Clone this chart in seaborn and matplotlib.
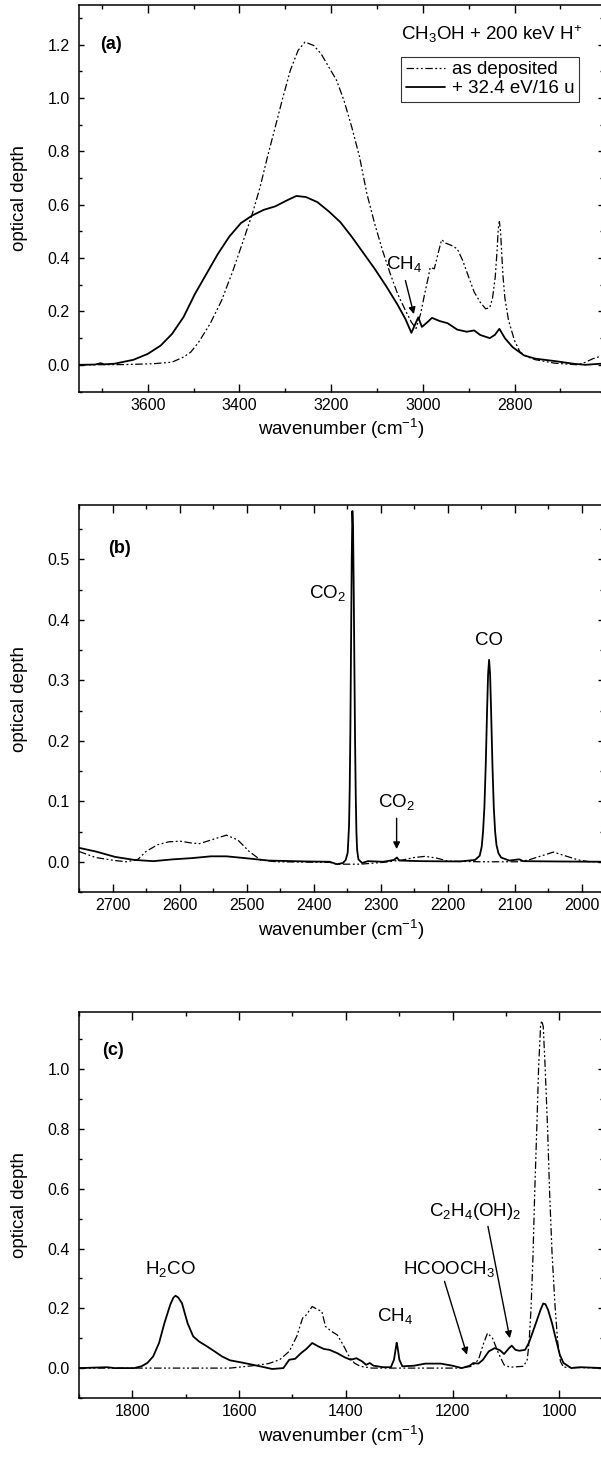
import matplotlib
matplotlib.use("Agg")
import matplotlib.pyplot as plt
import seaborn as sns
import pandas as pd
from matplotlib.ticker import MultipleLocator, FormatStrFormatter

# ---------------- data ----------------
# panel (a): 3750-2600 cm-1
a_dep_wn = [3750, 3650, 3589, 3547, 3522, 3506, 3489, 3464, 3439, 3414, 3389, 3372, 3355, 3339,
            3322, 3305, 3289, 3272, 3257, 3238, 3222, 3205, 3188, 3172, 3155, 3138, 3122, 3105,
            3088, 3071, 3055, 3038, 3025, 3015, 3005, 2996, 2988, 2984, 2975, 2967, 2959, 2950,
            2938, 2925, 2913, 2900, 2888, 2875, 2863, 2854, 2848, 2842, 2838, 2835.5, 2833, 2830.5,
            2828, 2825, 2821, 2813, 2800, 2788, 2771, 2754, 2712, 2662, 2645, 2629, 2614, 2600]
a_dep_od = [0.0, 0.001, 0.004, 0.010, 0.029, 0.048, 0.085, 0.154, 0.241, 0.354, 0.479, 0.566, 0.666, 0.779,
            0.891, 1.004, 1.104, 1.179, 1.210, 1.197, 1.166, 1.116, 1.066, 0.991, 0.891, 0.779, 0.641, 0.529,
            0.429, 0.341, 0.266, 0.204, 0.160, 0.136, 0.190, 0.266, 0.329, 0.365, 0.360, 0.416, 0.469, 0.456,
            0.448, 0.435, 0.391, 0.329, 0.273, 0.235, 0.210, 0.214, 0.250, 0.330, 0.430, 0.510, 0.537, 0.500,
            0.420, 0.330, 0.250, 0.166, 0.091, 0.048, 0.029, 0.019, 0.006, 0.0, 0.010, 0.023, 0.031, 0.036]
a_irr_wn = [3750, 3715, 3703, 3695, 3673, 3631, 3600, 3572, 3547, 3522, 3497, 3472, 3447, 3422,
            3397, 3372, 3347, 3322, 3297, 3276, 3255, 3230, 3205, 3180, 3155, 3130, 3105, 3080,
            3055, 3038, 3025, 3010, 3002, 2990, 2980, 2963, 2946, 2925, 2904, 2888, 2875, 2854,
            2843, 2833, 2821, 2804, 2779, 2754, 2712, 2671, 2645, 2614, 2600]
a_irr_od = [0.0, 0.001, 0.006, 0.002, 0.004, 0.019, 0.041, 0.072, 0.116, 0.179, 0.266, 0.341, 0.416, 0.481,
            0.531, 0.560, 0.581, 0.594, 0.616, 0.633, 0.629, 0.610, 0.575, 0.535, 0.480, 0.420, 0.360, 0.295,
            0.225, 0.172, 0.120, 0.178, 0.142, 0.160, 0.176, 0.164, 0.156, 0.132, 0.124, 0.129, 0.112, 0.100,
            0.112, 0.135, 0.100, 0.066, 0.035, 0.023, 0.014, 0.004, 0.0, 0.004, 0.004]

# panel (b): 2750-1968 cm-1
b_dep_wn = [2750, 2725, 2696, 2679, 2662, 2650, 2633, 2616, 2599, 2582, 2570, 2553, 2530, 2513,
            2496, 2479, 2456, 2376, 2365, 2347, 2330, 2319, 2296, 2267, 2250, 2233, 2216, 2199,
            2153, 2096, 2079, 2062, 2042, 2022, 2005, 1988, 1965]
b_dep_od = [0.017, 0.007, 0.002, 0.0, 0.004, 0.017, 0.028, 0.033, 0.034, 0.031, 0.030, 0.036, 0.044, 0.036,
            0.017, 0.003, 0.0, -0.001, -0.004, -0.004, -0.004, -0.003, -0.001, 0.003, 0.007, 0.009, 0.006, 0.001,
            0.0, 0.0, 0.003, 0.009, 0.016, 0.009, 0.003, 0.0, 0.0]
b_irr_wn = [2750, 2725, 2696, 2667, 2639, 2610, 2582, 2553, 2530, 2502, 2467, 2410, 2376, 2365,
            2356, 2352, 2349, 2347, 2346, 2345, 2344, 2343, 2342, 2341, 2340, 2339, 2338, 2337,
            2336, 2335, 2333, 2327.5, 2319, 2296, 2280, 2275.5, 2272, 2239, 2182, 2159, 2152,
            2149, 2147, 2145, 2143, 2141, 2139.5, 2138, 2136.5, 2135, 2133, 2131, 2129, 2127, 2124,
            2120, 2108, 2093, 2087, 2039, 1965]
b_irr_od = [0.023, 0.017, 0.008, 0.003, 0.001, 0.004, 0.006, 0.009, 0.009, 0.006, 0.002, 0.0005, 0.0, -0.004,
            -0.002, 0.003, 0.015, 0.060, 0.120, 0.220, 0.360, 0.500, 0.580, 0.550, 0.450, 0.320, 0.200, 0.110,
            0.050, 0.020, 0.004, -0.002, 0.001, 0.0, 0.003, 0.007, 0.002, 0.001, 0.0005, 0.003, 0.010,
            0.025, 0.050, 0.090, 0.160, 0.250, 0.310, 0.334, 0.310, 0.250, 0.160, 0.090, 0.050, 0.028, 0.014,
            0.007, 0.002, 0.004, 0.001, 0.0005, 0.0]

# panel (c): 1900-918 cm-1
c_dep_wn = [1900, 1617, 1574, 1545, 1524, 1506, 1492, 1481, 1474, 1463, 1452, 1445, 1438, 1427,
            1416, 1405, 1394, 1384, 1373, 1351, 1186, 1164, 1151.5, 1141.5, 1134.4, 1125, 1114,
            1103.4, 1092.5, 1067, 1060, 1056.6, 1053, 1049.4, 1046, 1042, 1038.6, 1035, 1033, 1030,
            1026.5, 1022, 1018, 1013.5, 1007.8, 1002.7, 997.7, 992, 918]
c_dep_od = [0.0, 0.0, 0.008, 0.015, 0.028, 0.056, 0.106, 0.167, 0.178, 0.206, 0.195, 0.190, 0.139, 0.123,
            0.111, 0.078, 0.039, 0.017, 0.006, 0.0, 0.0, 0.006, 0.028, 0.084, 0.117, 0.100, 0.050,
            0.011, 0.003, 0.006, 0.028, 0.084, 0.195, 0.362, 0.585, 0.808, 1.009, 1.143, 1.162, 1.143,
            1.009, 0.808, 0.585, 0.384, 0.206, 0.084, 0.022, 0.003, 0.0]
c_irr_wn = [1900, 1847.5, 1833, 1797, 1783, 1772, 1761, 1750, 1740, 1729, 1723, 1719, 1714, 1707,
            1696.5, 1686, 1675, 1660.5, 1646, 1632, 1617, 1596, 1574, 1553, 1538, 1517, 1506, 1495,
            1484, 1474, 1463, 1452, 1441, 1430.5, 1416, 1402, 1391, 1380, 1369, 1362, 1355, 1348, 1330,
            1315.5, 1309.7, 1306, 1304.7, 1303, 1299.6, 1294, 1272, 1251, 1222, 1200, 1182.5, 1168, 1161,
            1151.5, 1143, 1132, 1121, 1110.6, 1103.4, 1094, 1089, 1082, 1075, 1064, 1057, 1046, 1035,
            1030, 1026, 1021, 1013.5, 1006, 999, 992, 977.5, 960, 918]
c_irr_od = [0.0, 0.003, 0.0, 0.0, 0.006, 0.017, 0.039, 0.084, 0.150, 0.212, 0.236, 0.242, 0.236, 0.217,
            0.150, 0.106, 0.089, 0.073, 0.056, 0.039, 0.026, 0.019, 0.011, 0.003, -0.003, 0.0, 0.028, 0.031,
            0.050, 0.064, 0.084, 0.073, 0.064, 0.061, 0.050, 0.036, 0.028, 0.033, 0.022, 0.011, 0.017, 0.008,
            0.003, 0.003, 0.028, 0.070, 0.085, 0.070, 0.028, 0.006, 0.008, 0.015, 0.015, 0.008, 0.0, 0.008,
            0.017, 0.015, 0.028, 0.056, 0.067, 0.059, 0.047, 0.067, 0.075, 0.061, 0.058, 0.061, 0.084, 0.139,
            0.195, 0.216, 0.214, 0.195, 0.150, 0.095, 0.045, 0.017, 0.0, 0.003, 0.0]

labels_series = ["as deposited", "+ 32.4 eV/16 u"]

# ---------------- style ----------------
sns.set_theme(style="ticks")
plt.rcParams['font.family'] = ['Liberation Sans', 'DejaVu Sans']
plt.rcParams.update({
    'mathtext.fontset': 'custom',
    'mathtext.rm': 'Liberation Sans',
    'mathtext.it': 'Liberation Sans:italic',
    'mathtext.bf': 'Liberation Sans:bold',
    'axes.linewidth': 1.1,
    'axes.edgecolor': 'black',
    'xtick.color': 'black', 'ytick.color': 'black',
    'text.color': 'black', 'axes.labelcolor': 'black',
})

W, H = 601, 1461
fig = plt.figure(figsize=(W / 100, H / 100), dpi=100)

def axes_px(left, top, right, bottom):
    return fig.add_axes([left / W, 1 - bottom / H, (right - left) / W, (bottom - top) / H])

ax_a = axes_px(79, 4.7, 603, 391.5)
ax_b = axes_px(79, 505, 603, 892)
ax_c = axes_px(79, 1012.3, 603, 1398)

DASH = (0, (6, 2, 1.5, 2, 1.5, 2))

def draw(ax, dwn, dod, iwn, iod):
    dd = pd.DataFrame({"wn": dwn, "od": dod})
    ii = pd.DataFrame({"wn": iwn, "od": iod})
    sns.lineplot(data=dd, x="wn", y="od", ax=ax, color="black", sort=False, estimator=None,
                 linewidth=0.9, label=labels_series[0])
    ax.lines[-1].set_linestyle(DASH)
    sns.lineplot(data=ii, x="wn", y="od", ax=ax, color="black", sort=False, estimator=None,
                 linewidth=1.3, label=labels_series[1])

draw(ax_a, a_dep_wn, a_dep_od, a_irr_wn, a_irr_od)
draw(ax_b, b_dep_wn, b_dep_od, b_irr_wn, b_irr_od)
draw(ax_c, c_dep_wn, c_dep_od, c_irr_wn, c_irr_od)

cfg = [
    (ax_a, (3750, 2607), (-0.1, 1.35), 200, 100, 0.2, 0.1, "(a)", 0.040, 0.896),
    (ax_b, (2750, 1968), (-0.05, 0.59), 100, 50, 0.1, 0.05, "(b)", 0.056, 0.888),
    (ax_c, (1900, 918), (-0.1, 1.19), 200, 100, 0.2, 0.1, "(c)", 0.045, 0.902),
]
for ax, xl, yl, xM, xm, yM, ym, tag, tx, ty in cfg:
    ax.set_xlim(*xl)
    ax.set_ylim(*yl)
    ax.xaxis.set_major_locator(MultipleLocator(xM))
    ax.xaxis.set_minor_locator(MultipleLocator(xm))
    ax.yaxis.set_major_locator(MultipleLocator(yM))
    ax.yaxis.set_minor_locator(MultipleLocator(ym))
    ax.yaxis.set_major_formatter(FormatStrFormatter('%.1f'))
    ax.tick_params(axis='x', which='major', direction='in', length=5.5, width=1.0,
                   top=True, bottom=True, labelsize=11.5, pad=4.5)
    ax.tick_params(axis='x', which='minor', direction='in', length=3.0, width=1.0, top=True, bottom=True)
    ax.tick_params(axis='y', which='major', direction='in', length=3.6, width=1.0,
                   left=True, right=True, labelsize=11.5, pad=6.5)
    ax.tick_params(axis='y', which='minor', direction='in', length=2.0, width=1.0, left=True, right=True)
    ax.set_ylabel("optical depth", fontsize=13.5)
    ax.yaxis.set_label_coords(-0.097, 0.5)
    ax.set_xlabel("wavenumber (cm$^{-1}$)", fontsize=13.5)
    ax.xaxis.set_label_coords(0.5, -0.066)
    ax.text(tx, ty, tag, transform=ax.transAxes, fontsize=13, fontweight='bold',
            ha='left', va='center')
    for s in ax.spines.values():
        s.set_visible(True)
        s.set_color('black')

# legend and title on (a)
h, l = ax_a.get_legend_handles_labels()
leg = ax_a.legend(h, l, loc='upper right', bbox_to_anchor=(0.954, 0.8656), frameon=True,
                  fancybox=False, fontsize=13.5, handlelength=2.1, handletextpad=0.35,
                  labelspacing=0.1, borderpad=0.25, borderaxespad=0.0)
leg.get_frame().set_edgecolor('black')
leg.get_frame().set_linewidth(0.8)
ax_a.text(0.787, 0.924, "CH$_3$OH + 200 keV H$^{+}$", transform=ax_a.transAxes,
          fontsize=13.5, ha='center', va='center')
for ax in (ax_b, ax_c):
    if ax.get_legend() is not None:
        ax.get_legend().remove()

arrow = dict(arrowstyle='-|>', color='black', lw=1.0, mutation_scale=10, shrinkA=0, shrinkB=0)

# annotations (a)
ax_a.text(3042, 0.379, "CH$_4$", fontsize=13.5, ha='center', va='center')
ax_a.annotate("", xy=(3019.6, 0.19), xytext=(3038, 0.316), arrowprops=arrow)

# annotations (b)
ax_b.text(2379, 0.445, "CO$_2$", fontsize=13.5, ha='center', va='center')
ax_b.text(2138, 0.366, "CO", fontsize=13.5, ha='center', va='center')
ax_b.text(2276, 0.099, "CO$_2$", fontsize=13.5, ha='center', va='center')
ax_b.annotate("", xy=(2276, 0.021), xytext=(2276, 0.072), arrowprops=arrow)

# annotations (c)
ax_c.text(1729, 0.331, "H$_2$CO", fontsize=13.5, ha='center', va='center')
ax_c.text(1308, 0.173, "CH$_4$", fontsize=13.5, ha='center', va='center')
ax_c.text(1207, 0.331, "HCOOCH$_3$", fontsize=13.5, ha='center', va='center')
ax_c.annotate("", xy=(1173, 0.045), xytext=(1215, 0.29), arrowprops=arrow)
ax_c.text(1157, 0.524, "C$_2$H$_4$(OH)$_2$", fontsize=13.5, ha='center', va='center')
ax_c.annotate("", xy=(1092.6, 0.1), xytext=(1133.6, 0.474), arrowprops=arrow)

fig.savefig("out.png", dpi=100, facecolor='white')
